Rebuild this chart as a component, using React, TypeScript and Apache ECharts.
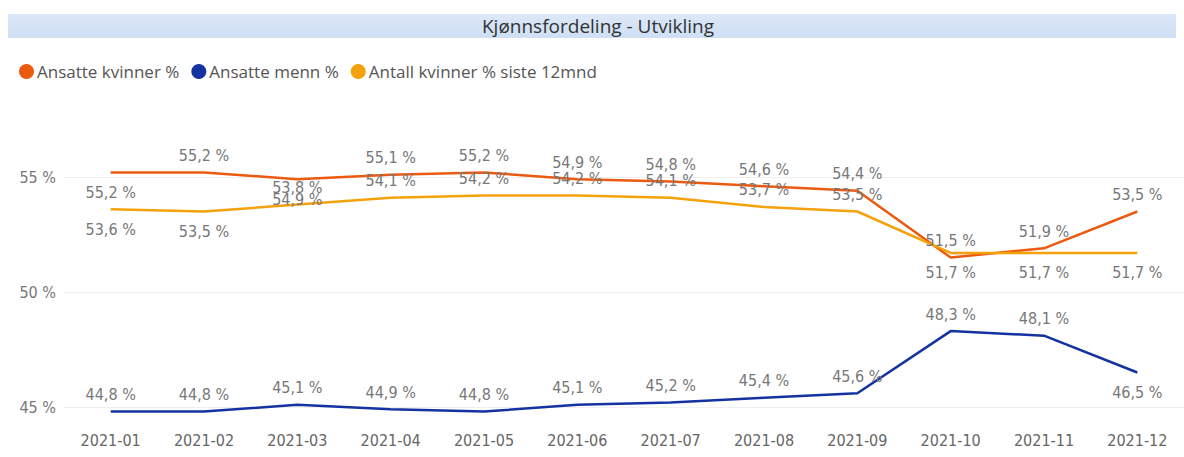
import React, { useEffect, useRef } from "react";
import * as echarts from "echarts";

const categories = ["2021-01", "2021-02", "2021-03", "2021-04", "2021-05", "2021-06", "2021-07", "2021-08", "2021-09", "2021-10", "2021-11", "2021-12"];
const kvinner = [55.2, 55.2, 54.9, 55.1, 55.2, 54.9, 54.8, 54.6, 54.4, 51.5, 51.9, 53.5];
const menn = [44.8, 44.8, 45.1, 44.9, 44.8, 45.1, 45.2, 45.4, 45.6, 48.3, 48.1, 46.5];
const kvinner12 = [53.6, 53.5, 53.8, 54.1, 54.2, 54.2, 54.1, 53.7, 53.5, 51.7, 51.7, 51.7];
const yTicks = [45, 50, 55];
const seriesNames = ["Ansatte kvinner %", "Ansatte menn %", "Antall kvinner % siste 12mnd"];
const titleText = "Kjønnsfordeling - Utvikling";

// indexes whose data labels sit below the line
const kvinnerBelow = [0, 2];
const mennBelow = [11];
const kvinner12Below = [0, 1, 9, 10, 11];

const fmt = (v: number) => v.toFixed(1).replace(".", ",") + " %";
const labelFont = {
  fontFamily: "DejaVu Sans Condensed",
  fontSize: 16,
  color: "#777777",
};

function buildData(values: number[], below: number[]) {
  return values.map((v, i) =>
    below.includes(i)
      ? { value: v, label: { position: "bottom", distance: 12 } }
      : { value: v, label: { position: "top", distance: 9 } }
  );
}

export default function App() {
  const ref = useRef<HTMLDivElement>(null);
  useEffect(() => {
    if (!ref.current) return;
    const chart = echarts.init(ref.current, undefined, { renderer: "svg" });
    const mkSeries = (name: string, values: number[], below: number[], color: string) => ({
      name,
      type: "line",
      data: buildData(values, below),
      symbol: "circle",
      symbolSize: 0,
      showSymbol: true,
      lineStyle: { color, width: 2.5 },
      itemStyle: { color },
      label: {
        show: true,
        formatter: (p: any) => fmt(p.value),
        ...labelFont,
      },
    });
    chart.setOption({
      animation: false,
      backgroundColor: "#ffffff",
      graphic: [
        {
          type: "rect",
          shape: { x: 8, y: 14, width: 1168, height: 24 },
          style: {
            fill: new echarts.graphic.LinearGradient(0, 0, 0, 1, [
              { offset: 0, color: "#dce8f8" },
              { offset: 1, color: "#cfdff4" },
            ]),
          },
          silent: true,
        },
        {
          type: "text",
          x: 598,
          y: 26,
          style: {
            text: titleText,
            fontFamily: "Open Sans",
            fontSize: 19,
            fill: "#333333",
            align: "center",
            verticalAlign: "middle",
          },
          silent: true,
        },
      ],
      legend: {
        left: 14,
        top: 58,
        icon: "circle",
        itemWidth: 15,
        itemHeight: 15,
        itemGap: 12,
        textStyle: { fontFamily: "Open Sans", fontSize: 17, color: "#555555", padding: [0, 0, 0, -2] },
        data: seriesNames,
      },
      grid: { left: 64, top: 119.5, width: 1125, bottom: 38.5 },
      xAxis: {
        type: "category",
        data: categories,
        boundaryGap: true,
        axisLine: { show: false },
        axisTick: { show: false },
        axisLabel: {
          margin: 14,
          fontFamily: "DejaVu Sans Condensed",
          fontSize: 16,
          color: "#666666",
        },
      },
      yAxis: {
        type: "value",
        min: 44.5,
        max: 57.5,
        axisLine: { show: false },
        axisTick: { show: false, customValues: yTicks },
        axisLabel: {
          customValues: yTicks,
          margin: 8,
          formatter: (v: number) => v + " %",
          fontFamily: "DejaVu Sans Condensed",
          fontSize: 16,
          color: "#777777",
        },
        splitLine: { show: true, lineStyle: { color: "#f0f0f0", width: 1 } },
      },
      series: [
        mkSeries(seriesNames[0], kvinner, kvinnerBelow, "#ec5a10"),
        mkSeries(seriesNames[1], menn, mennBelow, "#1433a0"),
        mkSeries(seriesNames[2], kvinner12, kvinner12Below, "#f4a10c"),
      ],
    });
    return () => chart.dispose();
  }, []);
  return (
    <div
      ref={ref}
      style={{ position: "absolute", left: 0, top: 0, width: 1184, height: 457 }}
    />
  );
}
